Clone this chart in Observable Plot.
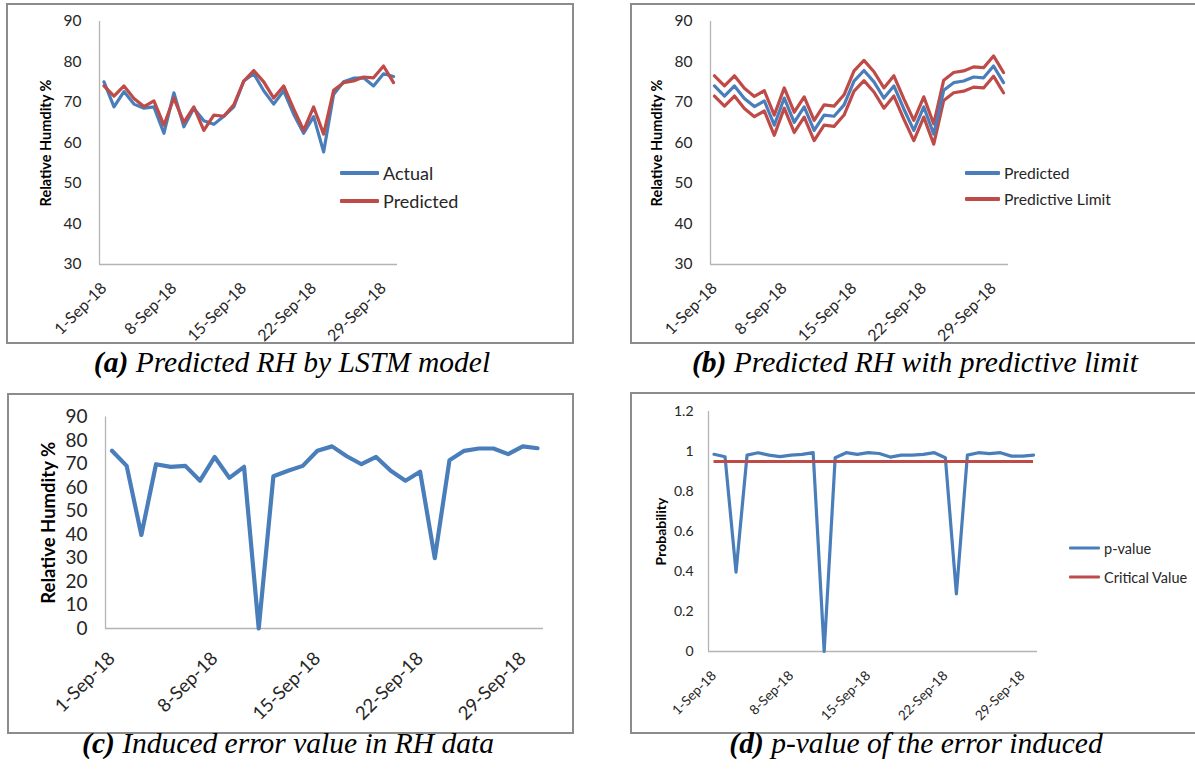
<!DOCTYPE html>
<html><head><meta charset="utf-8">
<script src="https://cdn.jsdelivr.net/npm/d3@7"></script>
<script src="https://cdn.jsdelivr.net/npm/@observablehq/plot@0.6"></script>
<style>
body{margin:0;background:#fff;overflow:hidden;}
#page{position:relative;width:1195px;height:771px;overflow:hidden;background:#fff;}
.frame{position:absolute;border:2px solid #8c8c8c;box-sizing:border-box;}
.chart{position:absolute;}
.legrow{position:absolute;display:flex;align-items:center;white-space:nowrap;font-family:Lato,sans-serif;color:#262626;transform:translateY(-50%);}
.sw{display:inline-block;height:3.5px;margin-right:4px;border-radius:1px;}
.caption{position:absolute;font-family:"Liberation Serif",serif;font-style:italic;font-size:29.5px;white-space:nowrap;transform:translate(-50%,-50%);color:#000;}
</style></head><body><div id="page"></div>
<script>
// ---------- data ----------
const dates = ["2018-09-01","2018-09-02","2018-09-03","2018-09-04","2018-09-05","2018-09-06","2018-09-07","2018-09-08","2018-09-09","2018-09-10",
  "2018-09-11","2018-09-12","2018-09-13","2018-09-14","2018-09-15","2018-09-16","2018-09-17","2018-09-18","2018-09-19","2018-09-20",
  "2018-09-21","2018-09-22","2018-09-23","2018-09-24","2018-09-25","2018-09-26","2018-09-27","2018-09-28","2018-09-29","2018-09-30"];
const tickDates = ["2018-09-01","2018-09-08","2018-09-15","2018-09-22","2018-09-29"];
const tickLabels = ["1-Sep-18","8-Sep-18","15-Sep-18","22-Sep-18","29-Sep-18"];

const actual = [75.1, 68.9, 72.7, 69.6, 68.6, 68.9, 62.4, 72.4, 64.0, 68.6, 65.5, 64.6, 66.6, 68.9, 75.3, 77.1, 72.9, 69.6, 72.9, 67.1, 62.4, 66.5, 57.8, 72.0, 75.1, 76.0, 76.1, 74.1, 77.1, 76.4];
const predicted = [74.1, 71.6, 74.1, 71.0, 69.0, 70.4, 64.4, 71.1, 65.1, 68.9, 63.1, 66.9, 66.6, 69.4, 75.3, 77.9, 75.1, 71.1, 74.1, 68.4, 63.1, 68.9, 62.2, 73.0, 74.9, 75.3, 76.3, 76.1, 79.0, 74.9];
const upperLimit = [76.6, 74.1, 76.6, 73.5, 71.5, 72.9, 66.9, 73.6, 67.6, 71.4, 65.6, 69.4, 69.1, 71.9, 77.8, 80.4, 77.6, 73.6, 76.6, 70.9, 65.6, 71.4, 64.7, 75.5, 77.4, 77.8, 78.8, 78.6, 81.5, 77.4];
const lowerLimit = [71.6, 69.1, 71.6, 68.5, 66.5, 67.9, 61.9, 68.6, 62.6, 66.4, 60.6, 64.4, 64.1, 66.9, 72.8, 75.4, 72.6, 68.6, 71.6, 65.9, 60.6, 66.4, 59.7, 70.5, 72.4, 72.8, 73.8, 73.6, 76.5, 72.4];
const induced = [75.6, 69.2, 39.8, 69.9, 68.8, 69.2, 62.9, 73.0, 64.1, 68.8, 0, 64.8, 67.1, 69.2, 75.6, 77.5, 73.3, 69.9, 73.0, 67.1, 62.9, 66.7, 29.9, 71.6, 75.6, 76.6, 76.6, 74.2, 77.5, 76.7];
const pValue = [0.986, 0.974, 0.397, 0.982, 0.994, 0.982, 0.974, 0.982, 0.986, 0.994, 0, 0.969, 0.994, 0.986, 0.994, 0.99, 0.972, 0.982, 0.982, 0.986, 0.994, 0.969, 0.288, 0.982, 0.994, 0.989, 0.994, 0.977, 0.977, 0.982];
const criticalValue = 0.95;

const rhTicks = [30, 40, 50, 60, 70, 80, 90];
const rhTicksC = [0, 10, 20, 30, 40, 50, 60, 70, 80, 90];
const probTicks = [0, 0.2, 0.4, 0.6, 0.8, 1, 1.2];

// ---------- styling ----------
const BLUE = "#4a7ebb", RED = "#be4b48", AXIS = "#b4b4b4", TXT = "#262626";
const FONT = "Lato, 'Open Sans', sans-serif";

const D = dates.map(s => new Date(s));
const TD = tickDates.map(s => new Date(s));
const rows = D.map((date, i) => ({date, actual: actual[i], predicted: predicted[i], upper: upperLimit[i], lower: lowerLimit[i], induced: induced[i], p: pValue[i]}));
const page = document.getElementById("page");

function fmtTick(d) {
  const i = TD.findIndex(t => t.getTime() === d.getTime());
  return i >= 0 ? tickLabels[i] : "";
}

function panel(c) {
  const fr = document.createElement("div");
  fr.className = "frame";
  Object.assign(fr.style, {left: c.L + "px", top: c.T + "px", width: (c.R - c.L) + "px", height: (c.B - c.T) + "px"});
  page.appendChild(fr);

  const W = c.R - c.L, H = c.B - c.T;
  const k = (c.p30 - c.p1) / 29, DAY = 864e5;
  const x0 = new Date(D[0].getTime() - (c.p1 - c.a) / k * DAY);
  const x1 = new Date(D[29].getTime() + (c.b - c.p30) / k * DAY);
  const chart = Plot.plot({
    width: W, height: H,
    marginLeft: c.a - c.L, marginRight: c.R - c.b, marginTop: c.yTop - c.T, marginBottom: c.B - c.yBot,
    style: {fontFamily: FONT, background: "transparent", overflow: "visible", color: TXT},
    x: {type: "utc", domain: [x0, x1]},
    y: {domain: c.yDomain},
    marks: [
      Plot.ruleX([x0], {stroke: AXIS, strokeWidth: 1.3}),
      Plot.ruleY([c.yDomain[0]], {stroke: AXIS, strokeWidth: 1.3}),
      Plot.axisY({ticks: c.yTicks, tickSize: 0, tickPadding: c.yPad, fontSize: c.yFont, tickFormat: d => String(d), label: null, fill: TXT}),
      Plot.axisY({ticks: [], label: c.title, labelAnchor: "center", labelArrow: "none", labelOffset: c.labelOffset, fontSize: c.titleFont, fontWeight: "bold", fill: "#000"}),
      Plot.axisX({ticks: TD, tickFormat: fmtTick, tickRotate: -45, tickSize: 0, tickPadding: c.xPad, fontSize: c.xFont, label: null, fill: TXT}),
      ...c.marks
    ]
  });
  chart.classList.add("chart");
  Object.assign(chart.style, {left: c.L + "px", top: c.T + "px"});
  page.appendChild(chart);

  (c.legend || []).forEach(l => {
    const r = document.createElement("div");
    r.className = "legrow";
    Object.assign(r.style, {left: c.legX + "px", top: l.y + "px", fontSize: c.legFont + "px"});
    r.innerHTML = `<span class="sw" style="width:${c.swW}px;background:${l.color}"></span><span>${l.text}</span>`;
    page.appendChild(r);
  });

  const cap = document.createElement("div");
  cap.className = "caption";
  Object.assign(cap.style, {left: c.capX + "px", top: c.capY + "px"});
  cap.innerHTML = c.caption;
  page.appendChild(cap);
}

const lineOpts = (y, color, w) => ({x: "date", y, stroke: color, strokeWidth: w, strokeLinejoin: "round", strokeLinecap: "round"});

// (a)
panel({L: 6, T: 3, R: 574, B: 344, a: 99, b: 397, p1: 103.5, p30: 393, yTop: 21, yBot: 264,
  yDomain: [30, 90], yTicks: rhTicks, yPad: 18, yFont: 15.5, xFont: 16, xPad: 21,
  title: "Relative Humdity %", titleFont: 14.5, labelOffset: 59,
  marks: [Plot.line(rows, lineOpts("actual", BLUE, 3.2)), Plot.line(rows, lineOpts("predicted", RED, 3.2))],
  legX: 340, swW: 39, legFont: 18, legend: [{y: 173, color: BLUE, text: "Actual"}, {y: 201, color: RED, text: "Predicted"}],
  capX: 292, capY: 362, caption: "<b>(a)</b> Predicted RH by LSTM model"});

// (b)
panel({L: 630, T: 3, R: 1200, B: 344, a: 710, b: 1008, p1: 714, p30: 1003, yTop: 21, yBot: 264,
  yDomain: [30, 90], yTicks: rhTicks, yPad: 18, yFont: 15.5, xFont: 16, xPad: 21,
  title: "Relative Humdity %", titleFont: 14.5, labelOffset: 59,
  marks: [Plot.line(rows, lineOpts("upper", RED, 3.2)), Plot.line(rows, lineOpts("lower", RED, 3.2)), Plot.line(rows, lineOpts("predicted", BLUE, 3.2))],
  legX: 965, swW: 35, legFont: 15.7, legend: [{y: 173, color: BLUE, text: "Predicted"}, {y: 199, color: RED, text: "Predictive Limit"}],
  capX: 915, capY: 362, caption: "<b>(b)</b> Predicted RH with predictive limit"});

// (c)
panel({L: 7, T: 393, R: 574, B: 734, a: 105, b: 543, p1: 111.5, p30: 537, yTop: 416.5, yBot: 628,
  yDomain: [0, 90], yTicks: rhTicksC, yPad: 18, yFont: 19, xFont: 18.5, xPad: 27,
  title: "Relative Humdity %", titleFont: 18.5, labelOffset: 64,
  marks: [Plot.line(rows, lineOpts("induced", BLUE, 4.2))],
  capX: 288, capY: 743, caption: "<b>(c)</b> Induced error value in RH data"});

// (d)
panel({L: 630, T: 392, R: 1200, B: 734, a: 708, b: 1037, p1: 713.5, p30: 1033, yTop: 411, yBot: 651,
  yDomain: [0, 1.2], yTicks: probTicks, yPad: 15, yFont: 14, xFont: 13.5, xPad: 22,
  title: "Probability", titleFont: 14, labelOffset: 52,
  marks: [Plot.line(rows, lineOpts("p", BLUE, 3.2)), Plot.ruleY([criticalValue], {x1: D[0], x2: D[29], stroke: RED, strokeWidth: 3.2})],
  legX: 1069, swW: 31, legFont: 14.5, legend: [{y: 548, color: BLUE, text: "p-value"}, {y: 577, color: RED, text: "Critical Value"}],
  capX: 916, capY: 743, caption: "<b>(d)</b> p-value of the error induced"});
</script></body></html>
